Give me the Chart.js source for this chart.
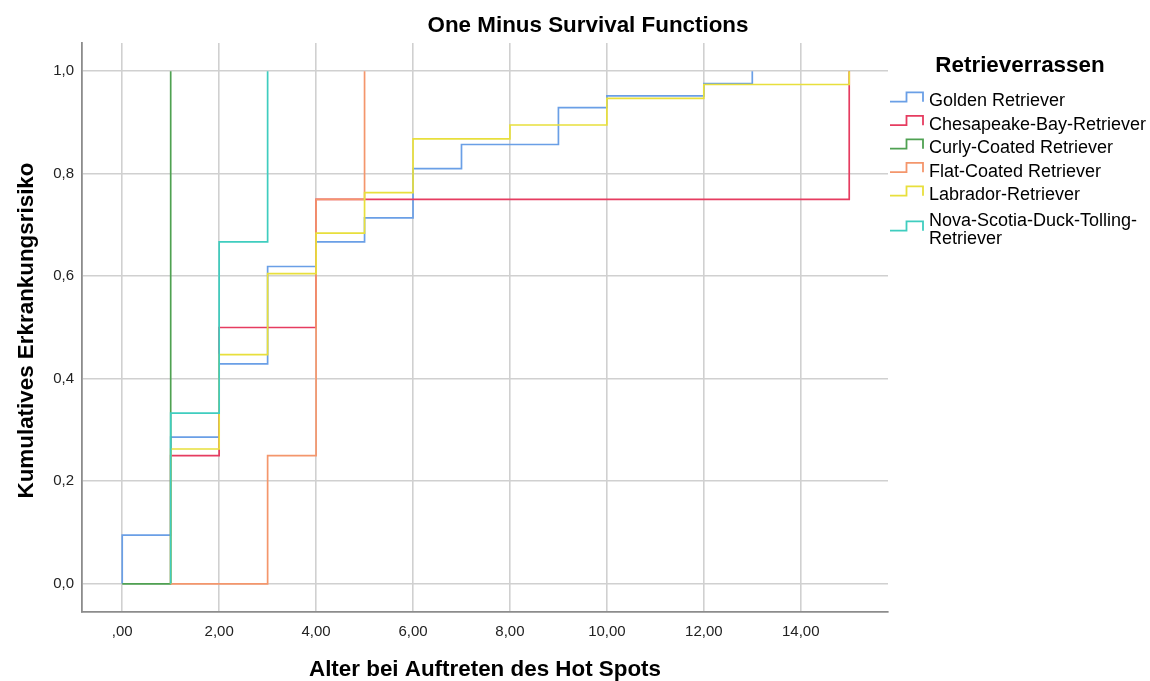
<!DOCTYPE html>
<html>
<head>
<meta charset="utf-8">
<title>One Minus Survival Functions</title>
<script src="https://cdn.jsdelivr.net/npm/chart.js@4/dist/chart.umd.min.js"></script>
<style>
  html, body { margin: 0; padding: 0; background: #ffffff; }
  #wrap { width: 1150px; height: 681px; position: relative; }
</style>
</head>
<body>
<div id="wrap"><canvas id="chart" width="1150" height="681"></canvas></div>
<script>
// Kaplan-Meier step curves (1 - S(t)) per breed: event times and cumulative risk
const breeds = [
  'Golden Retriever',
  'Chesapeake-Bay-Retriever',
  'Curly-Coated Retriever',
  'Flat-Coated Retriever',
  'Labrador-Retriever',
  'Nova-Scotia-Duck-Tolling-Retriever'
];

const goldenTimes = [0, 0, 1, 2, 3, 4, 5, 6, 7, 9, 10, 12, 13];
const goldenRisk  = [0, 0.095, 0.286, 0.429, 0.619, 0.667, 0.714, 0.810, 0.857, 0.929, 0.952, 0.976, 1.0];

const chesapeakeTimes = [1, 1, 2, 4, 15];
const chesapeakeRisk  = [0, 0.25, 0.50, 0.75, 1.0];

const curlyTimes = [0, 1];
const curlyRisk  = [0, 1.0];

const flatTimes = [1, 3, 4, 5];
const flatRisk  = [0, 0.25, 0.75, 1.0];

const labradorTimes = [1, 1, 2, 3, 4, 5, 6, 8, 10, 12, 15];
const labradorRisk  = [0, 0.263, 0.447, 0.605, 0.684, 0.763, 0.868, 0.895, 0.947, 0.974, 1.0];

const novaTimes = [1, 1, 2, 3];
const novaRisk  = [0, 0.333, 0.667, 1.0];

const breedColors = ['#6a9fe6', '#e63c60', '#4fa152', '#f4966c', '#e8df3c', '#3fcdbf'];

const xTickValues = [0, 2, 4, 6, 8, 10, 12, 14];
const xTickLabels = [',00', '2,00', '4,00', '6,00', '8,00', '10,00', '12,00', '14,00'];
const yTickValues = [0, 0.2, 0.4, 0.6, 0.8, 1.0];
const yTickLabels = ['0,0', '0,2', '0,4', '0,6', '0,8', '1,0'];

const chartTitle = 'One Minus Survival Functions';
const xTitle = 'Alter bei Auftreten des Hot Spots';
const yTitle = 'Kumulatives Erkrankungsrisiko';
const legendTitle = 'Retrieverrassen';

const seriesTimes = [goldenTimes, chesapeakeTimes, curlyTimes, flatTimes, labradorTimes, novaTimes];
const seriesRisk  = [goldenRisk, chesapeakeRisk, curlyRisk, flatRisk, labradorRisk, novaRisk];

const FONT = '"Liberation Sans", Arial, Helvetica, sans-serif';

const datasets = breeds.map((name, i) => ({
  label: name,
  data: seriesTimes[i].map((t, k) => ({ x: t, y: seriesRisk[i][k] })),
  borderColor: breedColors[i],
  backgroundColor: breedColors[i],
  borderWidth: 1.7,
  pointRadius: 0,
  pointHoverRadius: 0,
  fill: false,
  stepped: 'before',
  tension: 0,
  // later breeds are painted over earlier ones
  order: breeds.length - 1 - i
}));

// wrap a label after hyphens so it fits into maxWidth
function wrapLabel(ctx, text, maxWidth) {
  if (ctx.measureText(text).width <= maxWidth) return [text];
  const parts = text.split(/(?<=-)/);
  const lines = [];
  let cur = '';
  for (const p of parts) {
    if (cur && ctx.measureText(cur + p).width > maxWidth) {
      lines.push(cur);
      cur = p;
    } else {
      cur += p;
    }
  }
  if (cur) lines.push(cur);
  return lines;
}

const decorations = {
  id: 'decorations',
  afterDraw(chart) {
    const ctx = chart.ctx;
    const area = chart.chartArea;
    ctx.save();
    ctx.fillStyle = '#000000';

    // chart title
    ctx.font = 'bold 22.4px ' + FONT;
    ctx.textAlign = 'center';
    ctx.textBaseline = 'alphabetic';
    ctx.fillText(chartTitle, 588, 31.5);

    // x axis title
    ctx.fillText(xTitle, (area.left + area.right) / 2, 676);

    // y axis title
    ctx.save();
    ctx.translate(32.5, (area.top + area.bottom) / 2 + 3);
    ctx.rotate(-Math.PI / 2);
    ctx.fillText(yTitle, 0, 0);
    ctx.restore();

    // legend
    const lx = area.right + 2;
    ctx.fillText(legendTitle, area.right + 132, 72);
    ctx.font = '18px ' + FONT;
    ctx.textAlign = 'left';
    const textX = lx + 39;
    const lineGap = 18;
    let base = 106;
    chart.data.datasets.forEach((ds) => {
      const lines = wrapLabel(ctx, ds.label, chart.width - textX - 2);
      if (lines.length > 1) base += 2.5;
      ctx.fillStyle = '#000000';
      lines.forEach((ln, k) => ctx.fillText(ln, textX, base + k * lineGap));
      const shift = (lines.length - 1) * lineGap / 2;
      const low = base - 4.3 + shift;
      const high = base - 13.7 + shift;
      ctx.strokeStyle = ds.borderColor;
      ctx.lineWidth = 1.8;
      ctx.beginPath();
      ctx.moveTo(lx, low);
      ctx.lineTo(lx + 16.5, low);
      ctx.lineTo(lx + 16.5, high);
      ctx.lineTo(lx + 33, high);
      ctx.lineTo(lx + 33, low);
      ctx.stroke();
      base += (lines.length - 1) * lineGap + 23.5;
    });
    ctx.restore();
  }
};

new Chart(document.getElementById('chart'), {
  type: 'line',
  data: { datasets },
  plugins: [decorations],
  options: {
    responsive: false,
    animation: false,
    devicePixelRatio: 1,
    layout: { padding: { top: 43, right: 262, left: 0, bottom: 0 } },
    plugins: {
      legend: { display: false },
      title: { display: false },
      tooltip: { enabled: false }
    },
    scales: {
      x: {
        type: 'linear',
        min: -0.83,
        max: 15.8,
        afterBuildTicks: (s) => { s.ticks = xTickValues.map(v => ({ value: v })); },
        afterFit: (s) => { s.height = 69; },
        ticks: {
          autoSkip: false,
          maxRotation: 0,
          padding: 11,
          color: '#222222',
          font: { family: FONT, size: 15 },
          callback: (v) => xTickLabels[xTickValues.indexOf(v)]
        },
        grid: { color: '#d0d0d0', lineWidth: 1.6, drawTicks: false },
        border: { display: true, color: '#8c8c8c', width: 1.8 }
      },
      y: {
        type: 'linear',
        min: -0.055,
        max: 1.055,
        afterBuildTicks: (s) => { s.ticks = yTickValues.map(v => ({ value: v })); },
        afterFit: (s) => { s.width = 82; },
        ticks: {
          autoSkip: false,
          padding: 8,
          color: '#222222',
          font: { family: FONT, size: 15 },
          callback: (v) => yTickLabels[yTickValues.findIndex(t => Math.abs(t - v) < 1e-9)]
        },
        grid: { color: '#d0d0d0', lineWidth: 1.6, drawTicks: false },
        border: { display: true, color: '#8c8c8c', width: 1.8 }
      }
    }
  }
});
</script>
</body>
</html>
